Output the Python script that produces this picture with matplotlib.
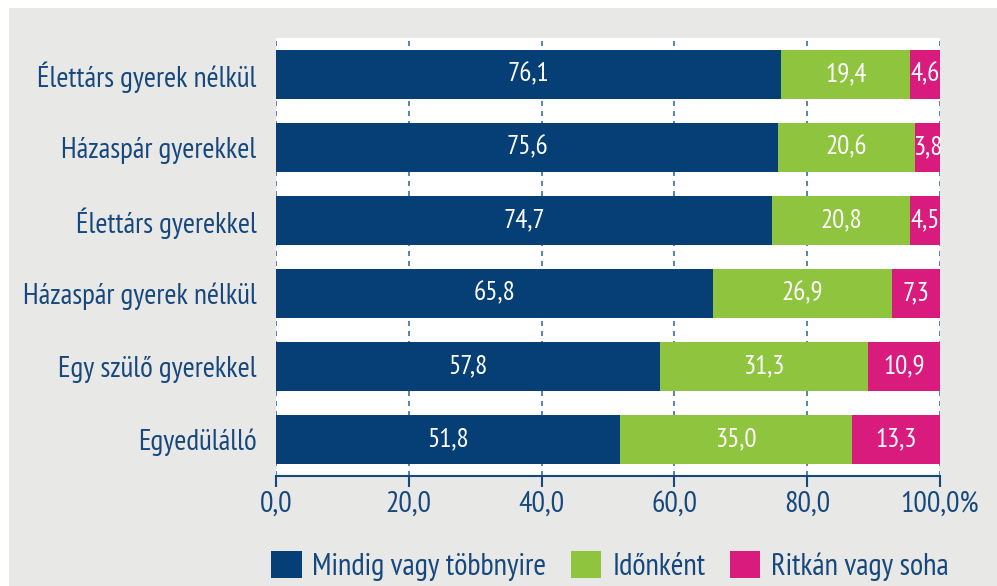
import matplotlib
matplotlib.use("Agg")
import matplotlib.pyplot as plt
from matplotlib.patches import Patch
import numpy as np

categories = ["Élettárs gyerek nélkül", "Házaspár gyerekkel", "Élettárs gyerekkel",
              "Házaspár gyerek nélkül", "Egy szülő gyerekkel", "Egyedülálló"]
mindig = [76.1, 75.6, 74.7, 65.8, 57.8, 51.8]
idonkent = [19.4, 20.6, 20.8, 26.9, 31.3, 35.0]
ritkan = [4.6, 3.8, 4.5, 7.3, 10.9, 13.3]
series_names = ["Mindig vagy többnyire", "Időnként", "Ritkán vagy soha"]
xticks = [0, 20, 40, 60, 80, 100]
xticklabels = ["0,0", "20,0", "40,0", "60,0", "80,0", "100,0%"]

colors = ["#063f75", "#8fc43f", "#d81b7d"]
txtcol = "#16487e"
bg = "#e8e8e6"

plt.rcParams['font.family'] = ['PT Sans Narrow', 'Fira Sans Condensed', 'Roboto Condensed', 'DejaVu Sans']

fig = plt.figure(figsize=(9.97, 5.86), dpi=100)
fig.patch.set_facecolor("white")
fig.patches.append(plt.Rectangle((9/997, 0), 1, 1 - 8/586, transform=fig.transFigure,
                                 facecolor=bg, edgecolor="none", zorder=-10))
W, H = 997, 586
ax = fig.add_axes([276/W, 1 - 476/H, (940-276)/W, (476-38)/H])
ax.set_facecolor("white")

y = np.arange(len(categories))
left = np.zeros(len(categories))
for vals, col in zip([mindig, idonkent, ritkan], colors):
    ax.barh(y, vals, left=left, height=0.67, color=col, edgecolor="none", zorder=3)
    for yi, l, v in zip(y, left, vals):
        ax.text(l + v/2, yi, f"{v:.1f}".replace(".", ","), ha="center", va="center",
                color="white", fontsize=19.5, zorder=4)
    left = left + np.array(vals)

ax.set_xlim(0, 100)
ax.set_ylim(5.5, -0.5)
ax.set_yticks(y)
ax.set_yticklabels(categories, fontsize=21, color=txtcol)
ax.tick_params(axis="y", length=0, pad=14)
ax.set_xticks(xticks)
ax.set_xticklabels(xticklabels, fontsize=21.5, color=txtcol)
ax.tick_params(axis="x", length=8, width=1.5, color=txtcol, pad=3, direction="out")
for s in ["top", "right", "left"]:
    ax.spines[s].set_visible(False)
ax.spines["bottom"].set_color(txtcol)
ax.spines["bottom"].set_linewidth(1.5)
ax.xaxis.grid(True, linestyle=(0, (3, 3)), color="#3a6ea5", linewidth=1.2, zorder=1)
ax.set_axisbelow(True)

handles = [Patch(facecolor=c, edgecolor="none") for c in colors]
fig.legend(handles, series_names, loc="center", bbox_to_anchor=(610/W, 1 - 566/H),
           ncol=3, frameon=False, fontsize=22, labelcolor=txtcol,
           handlelength=1.0, handleheight=1.0, handletextpad=0.35, columnspacing=0.8,
           borderpad=0, borderaxespad=0)

fig.savefig("out.png", dpi=100, facecolor=fig.get_facecolor())
